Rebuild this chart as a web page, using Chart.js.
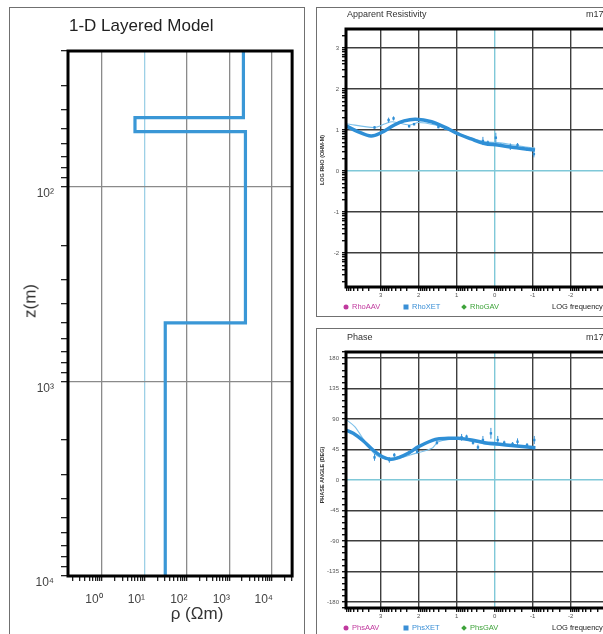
<!DOCTYPE html>
<html><head><meta charset="utf-8">
<script src="https://cdn.jsdelivr.net/npm/chart.js@4.4.1/dist/chart.umd.min.js"></script>
<style>
html,body{margin:0;padding:0;background:#fff;overflow:hidden;}
#wrap{position:relative;width:603px;height:634px;overflow:hidden;background:#fff;font-family:"Liberation Sans",Arial,sans-serif;}
.abs{position:absolute;}
.box{position:absolute;border:1px solid #707070;box-sizing:border-box;}
.t{position:absolute;white-space:nowrap;line-height:1;}
.c{transform:translate(-50%,-50%);}
.r{transform:translate(-50%,-50%) rotate(-90deg);}
.mk{position:absolute;width:5px;height:5px;transform:translate(-50%,-50%);}
</style></head><body>
<div id="wrap">
  <div class="box" style="left:9px;top:7px;width:296px;height:680px;"></div>
  <div class="box" style="left:316px;top:7px;width:330px;height:310px;"></div>
  <div class="box" style="left:316px;top:328px;width:330px;height:340px;"></div>

  <canvas id="cL" class="abs" width="292" height="626" style="left:11px;top:8px;"></canvas>
  <canvas id="cR" class="abs" width="300" height="307" style="left:318px;top:8px;"></canvas>
  <canvas id="cP" class="abs" width="300" height="304" style="left:318px;top:330px;"></canvas>

  <div class="t" style="left:69px;top:17px;font-size:17px;color:#222;">1-D Layered Model</div>
  <div class="t r" style="left:30px;top:301px;font-size:17px;color:#333;">z(m)</div>
  <div class="t c" style="left:197px;top:613px;font-size:17px;color:#333;">ρ (Ωm)</div>

  <div class="t" style="left:347px;top:10px;font-size:9px;color:#333;">Apparent Resistivity</div>
  <div class="t" style="left:586px;top:10px;font-size:9px;color:#333;">m17</div>
  <div class="t r" style="left:323px;top:160px;font-size:5.5px;font-weight:bold;color:#333;">LOG RHO (OHM-M)</div>
  <div class="mk" style="left:346px;top:307px;border-radius:50%;background:#c0399e;"></div>
  <div class="t" style="left:352px;top:303px;font-size:7.5px;color:#c0399e;">RhoAAV</div>
  <div class="mk" style="left:406px;top:307px;background:#3a8fd6;"></div>
  <div class="t" style="left:412px;top:303px;font-size:7.5px;color:#3a8fd6;">RhoXET</div>
  <div class="mk" style="left:464px;top:307px;background:#3ea33a;transform:translate(-50%,-50%) rotate(45deg);width:4px;height:4px;"></div>
  <div class="t" style="left:470px;top:303px;font-size:7.5px;color:#3ea33a;">RhoGAV</div>
  <div class="t" style="left:552px;top:303px;font-size:7.5px;color:#222;">LOG frequency (Hz)</div>

  <div class="t" style="left:347px;top:333px;font-size:9px;color:#333;">Phase</div>
  <div class="t" style="left:586px;top:333px;font-size:9px;color:#333;">m17</div>
  <div class="t r" style="left:323px;top:475px;font-size:5.5px;font-weight:bold;color:#333;">PHASE ANGLE (DEG)</div>
  <div class="mk" style="left:346px;top:628px;border-radius:50%;background:#c0399e;"></div>
  <div class="t" style="left:352px;top:624px;font-size:7.5px;color:#c0399e;">PhsAAV</div>
  <div class="mk" style="left:406px;top:628px;background:#3a8fd6;"></div>
  <div class="t" style="left:412px;top:624px;font-size:7.5px;color:#3a8fd6;">PhsXET</div>
  <div class="mk" style="left:464px;top:628px;background:#3ea33a;transform:translate(-50%,-50%) rotate(45deg);width:4px;height:4px;"></div>
  <div class="t" style="left:470px;top:624px;font-size:7.5px;color:#3ea33a;">PhsGAV</div>
  <div class="t" style="left:552px;top:624px;font-size:7.5px;color:#222;">LOG frequency (Hz)</div>
</div>
<script>
// ---------- DATA ----------
// 1-D layered model (resistivity in ohm-m, depth in m)
const modelRho   = [2150, 2150, 6, 6, 2400, 2400, 31, 31];
const modelDepth = [20, 44, 44, 52, 52, 500, 500, 10000];
const rhoDecadeTicks   = [1, 10, 100, 1000, 10000];
const depthDecadeTicks = [100, 1000, 10000];

// Apparent resistivity (log10 frequency, log10 rho)
const freqTicks   = [3, 2, 1, 0, -1, -2, -3];
const logRhoTicks = [3, 2, 1, 0, -1, -2];
const resFitFreq = [3.91, 3.60, 3.25, 2.99, 2.64, 2.38, 2.08, 1.66, 1.30, 0.96, 0.62, 0.27, -0.08, -0.51, -1.06];
const resFitRho  = [1.10, 0.96, 0.85, 0.93, 1.12, 1.22, 1.26, 1.20, 1.06, 0.90, 0.78, 0.67, 0.63, 0.57, 0.51];
const resThinFreq = [3.91, 3.16, 2.88, 2.69, 2.25, 2.00, 1.56, 1.22, 0.78, 0.27, -0.08, -0.51, -0.93, -1.06];
const resThinRho  = [1.15, 1.06, 1.15, 1.20, 1.12, 1.18, 1.12, 1.02, 0.85, 0.71, 0.69, 0.63, 0.57, 0.56];
const resObsFreq = [3.16, 2.79, 2.66, 2.25, 2.12, 1.48, 1.30, 0.96, 0.31, 0.18, -0.03, -0.16, -0.41, -0.60, -0.85, -1.03];
const resObsRho  = [1.06, 1.24, 1.28, 1.09, 1.14, 1.07, 1.03, 0.91, 0.73, 0.69, 0.81, 0.63, 0.59, 0.63, 0.53, 0.41];
const resObsErr  = [0.03, 0.06, 0.05, 0.03, 0.03, 0.03, 0.03, 0.03, 0.10, 0.05, 0.12, 0.04, 0.08, 0.05, 0.04, 0.08];

// Phase (log10 frequency, degrees)
const phaseTicks = [180, 135, 90, 45, 0, -45, -90, -135, -180];
const phFitFreq = [3.91, 3.72, 3.46, 3.20, 2.95, 2.73, 2.51, 2.25, 2.00, 1.56, 1.22, 0.96, 0.61, 0.27, -0.08, -0.51, -1.07];
const phFitVal  = [73.8, 68.9, 58.0, 44.3, 34.4, 30.5, 33.5, 40.3, 49.2, 60.0, 61.5, 61.5, 59.0, 55.1, 53.1, 50.6, 47.7];
const phThinFreq = [3.91, 3.68, 3.38, 3.12, 2.77, 2.51, 2.08, 1.65, 1.48, 0.96, 0.53, 0.10, -0.42, -1.07];
const phThinVal  = [89.5, 78.7, 54.1, 36.9, 29.5, 32.0, 39.3, 46.8, 56.5, 60.5, 56.5, 51.6, 51.6, 46.8];
const phObsFreq = [3.16, 2.77, 2.64, 2.25, 2.04, 1.52, 0.87, 0.74, 0.57, 0.44, 0.31, 0.10, -0.08, -0.25, -0.47, -0.60, -0.85, -1.04];
const phObsVal  = [33.4, 29.5, 36.9, 40.3, 41.8, 55.1, 63.0, 63.9, 55.1, 48.2, 59.0, 68.9, 59.0, 55.1, 53.1, 56.5, 51.6, 59.0];
const phObsErr  = [5, 4, 3, 3, 3, 3, 5, 3, 3, 4, 6, 8, 6, 3, 3, 5, 3, 6];

// ---------- helpers ----------
Chart.defaults.font.family = '"Liberation Sans", Arial, sans-serif';
const CLEAR = 'rgba(0,0,0,0)';
const zip = (a, b) => a.map((v, i) => ({x: v, y: b[i]}));
const errSegs = (f, v, e) => { const o = []; f.forEach((x, i) => { o.push({x, y: v[i] - e[i]}, {x, y: v[i] + e[i]}, {x, y: null}); }); return o; };
const near = (a, b) => Math.abs(a - b) < 1e-6;
const SUP = {'0':'⁰','1':'¹','2':'²','3':'³','4':'⁴','5':'⁵','6':'⁶','7':'⁷','8':'⁸','9':'⁹','-':'⁻'};
const supLabel = v => '10' + String(Math.round(Math.log10(v))).split('').map(c => SUP[c]).join('');
function logTicks(min, max) { // ticks at k*10^n
  const t = [];
  for (let e = Math.floor(Math.log10(min)) - 1; e <= Math.ceil(Math.log10(max)); e++)
    for (let k = 1; k < 10; k++) { const v = k * Math.pow(10, e); if (v >= min * 0.99999 && v <= max * 1.00001) t.push({value: v}); }
  return t;
}
function logValTicks(min, max) { // ticks at n+log10(k) on an axis of log values
  const t = [];
  for (let n = Math.floor(min) - 1; n <= Math.ceil(max); n++)
    for (let k = 1; k < 10; k++) { const v = n + Math.log10(k); if (v >= min - 1e-9 && v <= max + 1e-9) t.push({value: v}); }
  return t;
}
function stepTicks(min, max, step) { const t = []; for (let v = Math.ceil(min / step) * step; v <= max + 1e-9; v += step) t.push({value: v}); return t; }
const frame = {id: 'frame', afterDraw(c) { const a = c.chartArea, x = c.ctx; x.save(); x.strokeStyle = '#000'; x.lineWidth = 3; x.strokeRect(a.left, a.top, a.right - a.left, a.bottom - a.top); x.restore(); }};

// ---------- left: 1-D model ----------
const LX_MIN = Math.pow(10, -0.8), LX_MAX = Math.pow(10, 4.48);
const LY_MIN = 20, LY_MAX = 10000;
new Chart(document.getElementById('cL'), {
  type: 'scatter',
  data: {datasets: [{data: zip(modelRho, modelDepth), showLine: true, borderColor: '#3a97d6', borderWidth: 3.2, pointRadius: 0, tension: 0, fill: false}]},
  options: {
    responsive: false, animation: false, devicePixelRatio: 1,
    layout: {padding: {left: 0, top: 43, right: 5, bottom: 0}},
    plugins: {legend: {display: false}, tooltip: {enabled: false}},
    scales: {
      x: {
        type: 'logarithmic', min: LX_MIN, max: LX_MAX, bounds: 'data',
        afterBuildTicks: s => { s.ticks = logTicks(LX_MIN, LX_MAX); },
        afterFit: s => { s.height = 58; },
        ticks: {autoSkip: false, maxRotation: 0, minRotation: 0, padding: 11, labelOffset: -8, color: '#444', font: {size: 12},
          callback: v => rhoDecadeTicks.some(d => near(d, v)) ? supLabel(v) : ''},
        grid: {lineWidth: 1.3, tickLength: 5, tickColor: '#222',
          color: c => { const v = c.tick && c.tick.value; if (v === undefined) return CLEAR; if (near(v, 10)) return '#9dd0e6'; return rhoDecadeTicks.some(d => near(d, v)) ? '#8a8a8a' : CLEAR; }},
        border: {display: false}
      },
      y: {
        type: 'logarithmic', reverse: true, min: LY_MIN, max: LY_MAX, bounds: 'data',
        afterBuildTicks: s => { s.ticks = logTicks(LY_MIN, LY_MAX); },
        afterFit: s => { s.width = 57; },
        ticks: {autoSkip: false, padding: 7, labelOffset: 7, color: '#444', font: {size: 12},
          callback: v => depthDecadeTicks.some(d => near(d, v)) ? supLabel(v) : ''},
        grid: {lineWidth: 1.3, tickLength: 7, tickColor: '#222',
          color: c => { const v = c.tick && c.tick.value; return (v !== undefined && depthDecadeTicks.some(d => near(d, v))) ? '#8a8a8a' : CLEAR; }},
        border: {display: false}
      }
    }
  },
  plugins: [frame]
});

// ---------- right panels ----------
const F_MAX = 3.91, F_MIN = -3.137;
function freqAxis(h) {
  return {
    type: 'linear', reverse: true, min: F_MIN, max: F_MAX, bounds: 'data',
    afterBuildTicks: s => { s.ticks = logValTicks(F_MIN, F_MAX); },
    afterFit: s => { s.height = h; },
    ticks: {autoSkip: false, maxRotation: 0, minRotation: 0, padding: 1, color: '#555', font: {size: 6},
      callback: v => { const r = Math.round(v); return (near(v, r) && freqTicks.includes(r)) ? String(r) : ''; }},
    grid: {lineWidth: 1.4, tickLength: 4, tickColor: '#111',
      color: c => { const v = c.tick && c.tick.value; if (v === undefined) return CLEAR; const r = Math.round(v); if (!near(v, r)) return CLEAR; return r === 0 ? '#7fc8d8' : '#3e3e3e'; }},
    border: {display: false}
  };
}
function valAxis(min, max, ticksFn, isMajor, label) {
  return {
    type: 'linear', min, max, bounds: 'data',
    afterBuildTicks: s => { s.ticks = ticksFn(); },
    afterFit: s => { s.width = 28; },
    ticks: {autoSkip: false, padding: 3, color: '#555', font: {size: 6}, callback: v => isMajor(v) ? label(v) : ''},
    grid: {lineWidth: 1.4, tickLength: 4, tickColor: '#111',
      color: c => { const v = c.tick && c.tick.value; if (v === undefined || !isMajor(v)) return CLEAR; return near(v, 0) ? '#7fc8d8' : '#3e3e3e'; }},
    border: {display: false}
  };
}
function mtDatasets(fitF, fitV, thinF, thinV, obsF, obsV, obsE) {
  return [
    {data: zip(fitF, fitV), showLine: true, borderColor: '#2f8fd6', borderWidth: 3.5, pointRadius: 0, tension: 0.35},
    {data: zip(obsF, obsV), showLine: false, pointStyle: 'rect', pointRadius: 1.7, backgroundColor: '#2f8fd6', borderWidth: 0},
    {data: errSegs(obsF, obsV, obsE), showLine: true, spanGaps: false, borderColor: '#3a94d8', borderWidth: 1, pointRadius: 0, tension: 0},
    {data: zip(thinF, thinV), showLine: true, borderColor: '#7cc0ea', borderWidth: 1.1, pointRadius: 0, tension: 0.3}
  ];
}
const R_MIN = -2.83, R_MAX = 3.46;
new Chart(document.getElementById('cR'), {
  type: 'scatter',
  data: {datasets: mtDatasets(resFitFreq, resFitRho, resThinFreq, resThinRho, resObsFreq, resObsRho, resObsErr)},
  options: {
    responsive: false, animation: false, devicePixelRatio: 1,
    layout: {padding: {left: 0, top: 21, right: 0, bottom: 0}},
    plugins: {legend: {display: false}, tooltip: {enabled: false}},
    scales: {
      x: freqAxis(28),
      y: valAxis(R_MIN, R_MAX, () => logValTicks(R_MIN, R_MAX),
        v => { const r = Math.round(v); return near(v, r) && logRhoTicks.includes(r); }, v => String(Math.round(v)))
    }
  },
  plugins: [frame]
});
const P_MIN = -189, P_MAX = 189;
new Chart(document.getElementById('cP'), {
  type: 'scatter',
  data: {datasets: mtDatasets(phFitFreq, phFitVal, phThinFreq, phThinVal, phObsFreq, phObsVal, phObsErr)},
  options: {
    responsive: false, animation: false, devicePixelRatio: 1,
    layout: {padding: {left: 0, top: 22, right: 0, bottom: 0}},
    plugins: {legend: {display: false}, tooltip: {enabled: false}},
    scales: {
      x: freqAxis(26),
      y: valAxis(P_MIN, P_MAX, () => stepTicks(P_MIN, P_MAX, 9),
        v => phaseTicks.some(p => near(p, v)), v => String(Math.round(v)))
    }
  },
  plugins: [frame]
});
</script>
</body></html>
